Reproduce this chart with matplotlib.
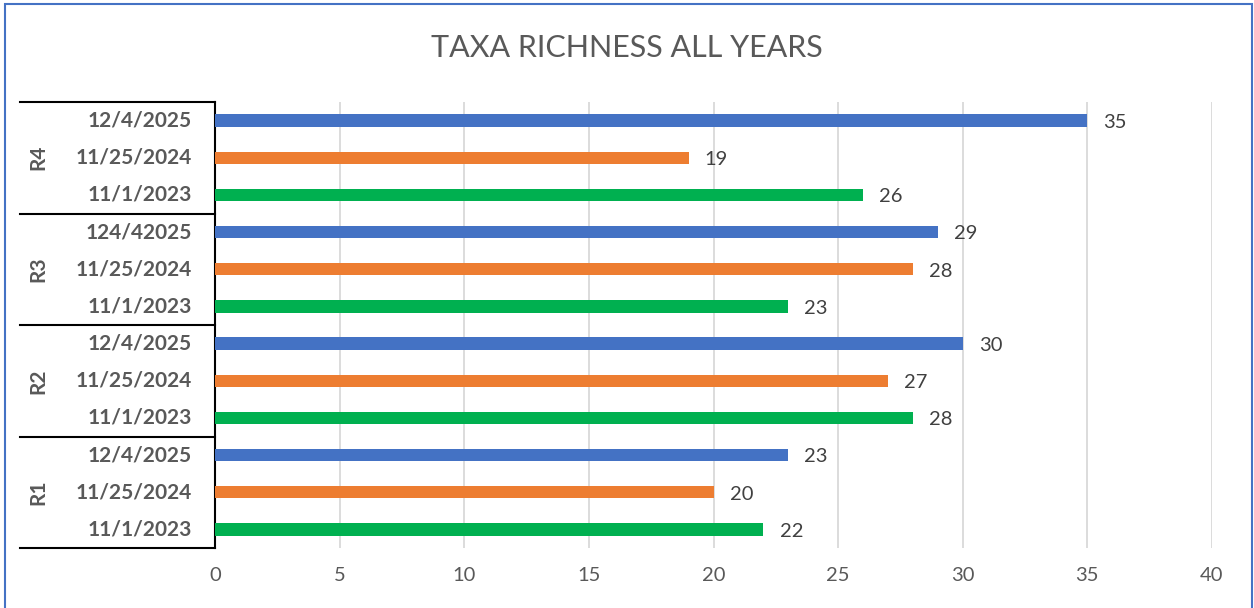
import matplotlib.pyplot as plt
import matplotlib.transforms as mtransforms
from matplotlib.patches import Rectangle

plt.rcParams['font.family'] = ['Lato', 'DejaVu Sans']

# categories bottom to top
groups = ['R1', 'R2', 'R3', 'R4']
dates = ['11/1/2023', '11/25/2024', '12/4/2025',
         '11/1/2023', '11/25/2024', '12/4/2025',
         '11/1/2023', '11/25/2024', '124/42025',
         '11/1/2023', '11/25/2024', '12/4/2025']
richness = [22, 20, 23,
            28, 27, 30,
            23, 28, 29,
            26, 19, 35]
colors = ['#00B050', '#ED7D31', '#4472C4'] * 4

W, H = 1254, 608
fig = plt.figure(figsize=(W / 100, H / 100), dpi=100)
ax = fig.add_axes([215 / W, 1 - 548 / H, (1212 - 215) / W, (548 - 102) / H])

ypos = list(range(len(richness)))
ax.barh(ypos, richness, height=0.33, color=colors, zorder=3)
for y, v in zip(ypos, richness):
    ax.text(v + 0.65, y - 0.05, str(v), va='center', ha='left', fontsize=14.5,
            color='#404040')

ax.set_xlim(0, 40)
ax.set_ylim(-0.5, len(richness) - 0.5)
ax.set_xticks(range(0, 41, 5))
ax.tick_params(axis='x', length=0, pad=14, labelsize=14.5, labelcolor='#595959')
ax.set_yticks([])
ax.grid(axis='x', color='#D9D9D9', linewidth=1.3, zorder=0)
for s in ['top', 'right', 'bottom']:
    ax.spines[s].set_visible(False)
ax.spines['left'].set_color('black')
ax.spines['left'].set_linewidth(1.5)

# two-level category axis
trans = mtransforms.blended_transform_factory(fig.transFigure, ax.transData)
for y, d in zip(ypos, dates):
    fig.text(192 / W, 0, d, transform=trans, ha='right', va='center',
             fontsize=15, fontweight='bold', color='#595959').set_y(y)
for g_i, g in enumerate(groups):
    t = fig.text(38 / W, 0, g, transform=trans, ha='center', va='center',
                 rotation=90, fontsize=15, fontweight='bold', color='#595959')
    t.set_y(g_i * 3 + 1)
for b in [-0.5, 2.5, 5.5, 8.5, 11.5]:
    ax.plot([20 / W, 215 / W], [b, b], transform=trans, color='black',
            linewidth=1.5, clip_on=False)

fig.text(0.5, 1 - 48 / H, 'TAXA RICHNESS ALL YEARS', ha='center', va='center',
         fontsize=22, color='#595959')

fig.patches.append(Rectangle((5 / W, -0.01), (1252 - 5) / W, 1 - 4 / H + 0.01,
                             transform=fig.transFigure, fill=False,
                             edgecolor='#4472C4', linewidth=1.5))

fig.savefig('out.png', dpi=100)
